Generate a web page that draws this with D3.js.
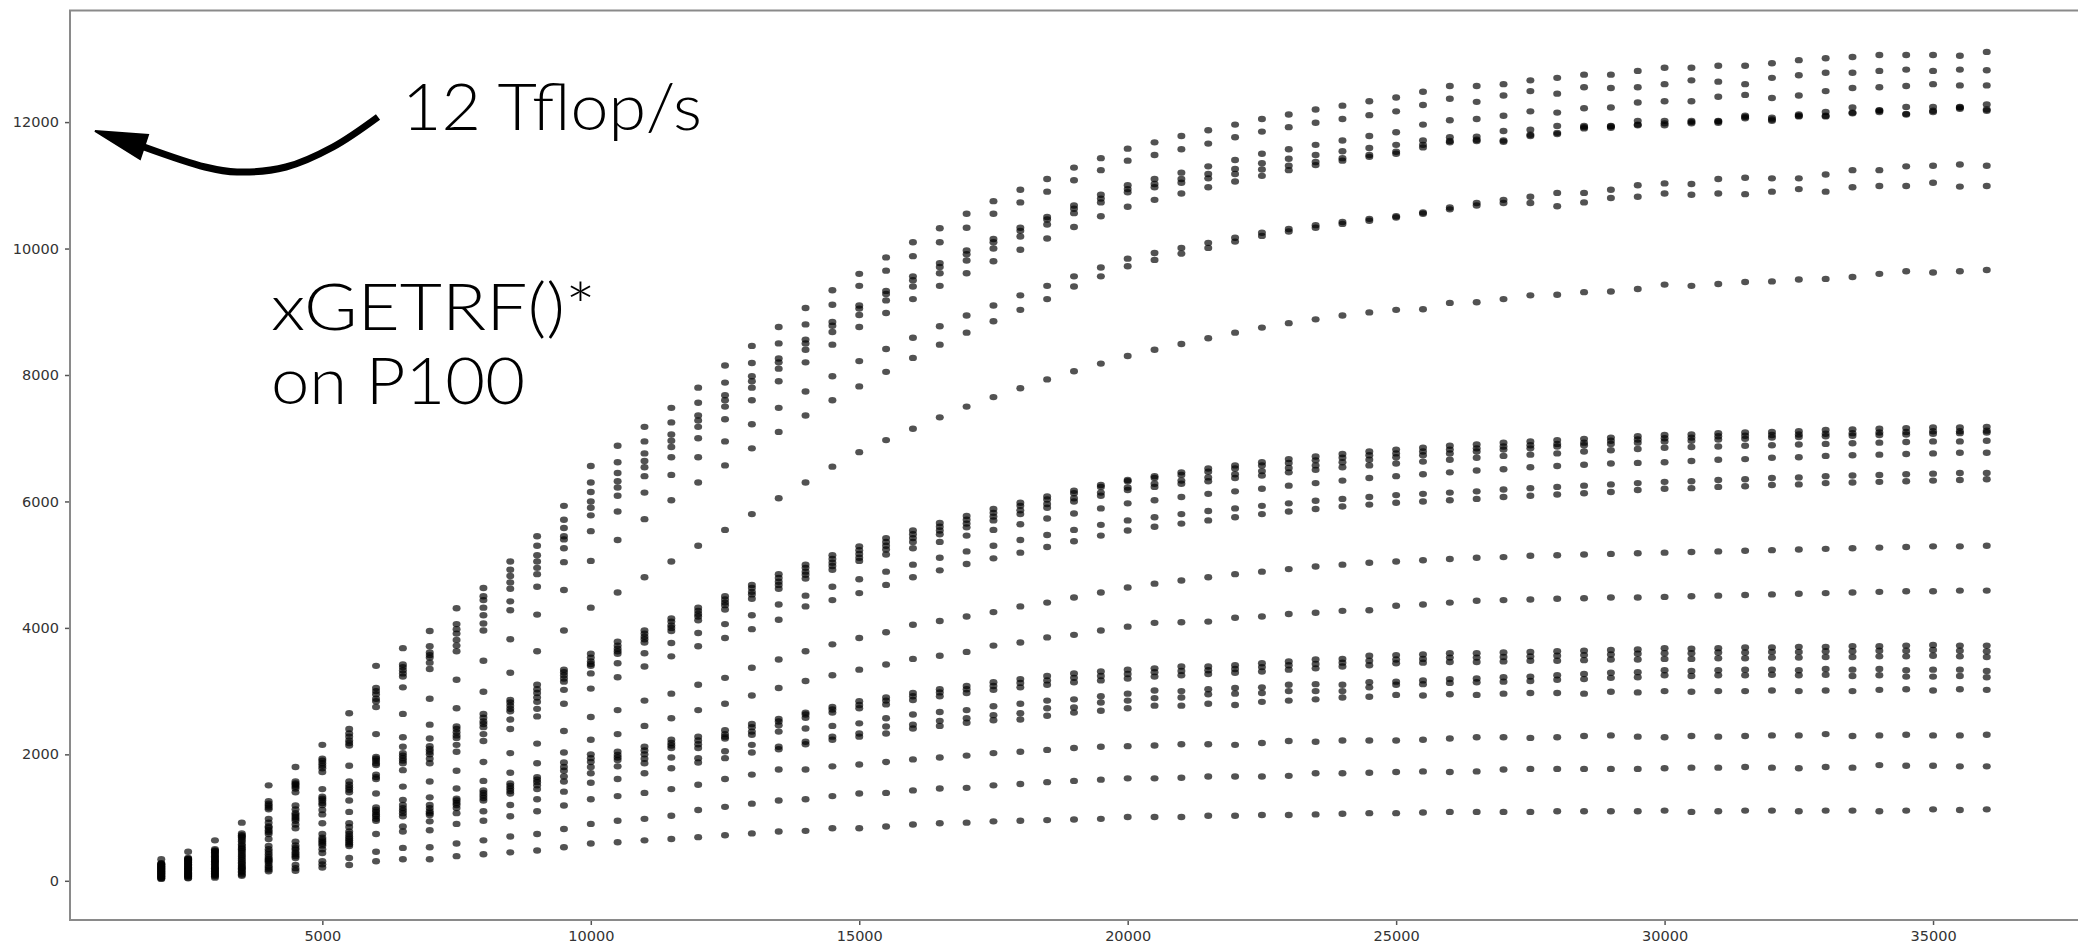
<!DOCTYPE html>
<html>
<head>
<meta charset="utf-8">
<script src="https://cdn.jsdelivr.net/npm/d3@7"></script>
<style>
  html, body { margin: 0; background: #fff; }
  svg { display: block; }
  .tick text { font-family: "DejaVu Sans", sans-serif; font-size: 14.5px; fill: #333; }
  .note { font-family: "Lato", "Open Sans", sans-serif; font-weight: 300; fill: #000; }
</style>
</head>
<body>
<svg id="chart"></svg>
<script>
// matrix sizes N (one column of dots per size)
const sizes = [2000,2500,3000,3500,4000,4500,5000,5500,6000,6500,7000,7500,8000,8500,9000,9500,
  10000,10500,11000,11500,12000,12500,13000,13500,14000,14500,15000,15500,16000,16500,17000,17500,
  18000,18500,19000,19500,20000,20500,21000,21500,22000,22500,23000,23500,24000,24500,25000,
  25500,26000,26500,27000,27500,28000,28500,29000,29500,30000,30500,31000,31500,32000,32500,
  33000,33500,34000,34500,35000,35500,36000];

// Gflop/s, upper band (tops out near 13 Tflop/s)
const highGroup = [
  [340,460,640,920,1510,1800,2150,2650,3400,3680,3950,4310,4630,5050,5450,5930,
   6560,6880,7180,7480,7800,8150,8460,8760,9060,9340,9600,9860,10100,10320,10550,10750,10930,11100,11280,11430,11580,11680,11780,11870,11960,12050,12120,12200,12260,12330,12390,
   12480,12570,12570,12600,12660,12700,12750,12750,12810,12860,12860,12890,12890,12930,12980,13010,13030,13060,13060,13060,13050,13110],
  [280,360,500,750,1260,1570,1930,2400,3050,3420,3710,4060,4500,4920,5300,5710,
   6300,6620,6950,7250,7560,7880,8190,8500,8800,9110,9410,9650,9880,10100,10330,10550,10730,10900,11080,11240,11390,11480,11570,11660,11760,11850,11920,11990,12050,12110,12170,
   12270,12370,12320,12420,12490,12450,12550,12540,12550,12600,12660,12640,12600,12700,12740,12780,12780,12810,12830,12810,12830,12820],
  [270,350,480,720,1220,1540,1900,2330,3000,3380,3610,3980,4440,4820,5150,5580,
   6150,6450,6760,7060,7360,7680,7980,8260,8560,8840,9100,9330,9560,9770,9970,10150,10330,10500,10680,10850,11000,11100,11200,11300,11400,11500,11570,11640,11710,11780,11840,
   11960,12030,12050,12100,12170,12150,12220,12230,12310,12330,12330,12400,12430,12380,12420,12490,12540,12550,12570,12600,12580,12580],
  [260,340,470,700,1190,1520,1860,2280,2950,3330,3570,3910,4320,4720,5050,5450,
   6000,6320,6640,6960,7280,7600,7900,8200,8500,8780,9050,9280,9500,9710,9910,10100,10280,10460,10630,10790,10940,11020,11100,11180,11260,11350,11420,11480,11540,11590,11640,
   11710,11760,11770,11860,11880,11940,11940,11940,12020,12020,12020,12020,12100,12070,12120,12160,12230,12190,12240,12240,12240,12280],
  [250,330,450,680,1160,1490,1820,2220,2880,3280,3530,3810,4200,4620,4950,5400,
   5900,6220,6540,6860,7180,7500,7800,8100,8400,8680,8950,9180,9400,9610,9810,10000,10190,10380,10560,10730,10890,10970,11040,11110,11180,11250,11310,11370,11430,11480,11530,
   11640,11700,11720,11710,11800,11830,11920,11930,11960,11980,12000,12010,12080,12040,12100,12100,12150,12180,12130,12180,12230,12200],
  [240,320,430,650,1130,1460,1780,2180,2840,3230,3450,3720,4070,4420,4850,5260,
   5780,6090,6400,6700,7000,7300,7600,7900,8200,8480,8760,8980,9200,9410,9610,9800,9980,10160,10340,10510,10660,10770,10870,10970,11060,11150,11240,11320,11390,11450,11500,
   11600,11680,11700,11690,11780,11810,11900,11910,11950,11950,11980,11990,12060,12020,12090,12090,12140,12160,12120,12160,12210,12180],
  [230,300,410,620,980,1400,1720,2140,2750,3060,3350,3630,3960,4280,4650,5040,
   5530,5840,6140,6420,6700,6950,7220,7480,7740,7980,8220,8410,8590,8770,8940,9100,9260,9410,9560,9700,9840,9930,10010,10090,10170,10250,10310,10370,10420,10470,10510,
   10570,10650,10720,10770,10820,10880,10880,10930,11000,11030,11020,11100,11120,11110,11110,11170,11240,11240,11300,11310,11330,11310],
  [220,290,390,580,920,1190,1450,1820,2320,2640,2880,3180,3480,3820,4210,4600,
   5060,5390,5720,6020,6300,6570,6840,7100,7360,7600,7820,8050,8270,8480,8670,8850,9030,9200,9400,9560,9720,9820,9920,10010,10110,10200,10270,10330,10390,10440,10490,
   10550,10620,10680,10720,10720,10670,10730,10800,10820,10870,10850,10870,10860,10900,10940,10900,10970,10990,10990,11040,10980,10990],
  [210,280,370,550,860,1130,1330,1570,1960,2270,2470,2730,2990,3290,3630,3960,
   4320,4560,4800,5050,5300,5550,5800,6050,6300,6550,6780,6970,7150,7330,7500,7650,7790,7930,8060,8180,8300,8400,8490,8580,8670,8750,8820,8880,8940,8990,9030,
   9040,9140,9150,9200,9260,9270,9310,9320,9360,9430,9410,9440,9470,9480,9510,9520,9550,9600,9640,9620,9640,9660]
];

// Gflop/s, middle band (around 7 Tflop/s)
const midGroup = [
  [200,260,350,520,840,1070,1300,1520,1930,2120,2250,2440,2640,2860,3100,3340,
   3590,3780,3960,4150,4320,4500,4680,4850,5000,5150,5290,5420,5540,5660,5770,5880,5980,6080,6170,6260,6340,6400,6460,6520,6570,6620,6670,6710,6750,6790,6820,
   6850,6880,6900,6930,6950,6970,6990,7010,7030,7050,7060,7080,7090,7100,7110,7130,7140,7150,7160,7170,7170,7180],
  [190,250,330,500,800,1040,1270,1480,1900,2020,2130,2400,2580,2820,3030,3300,
   3530,3720,3910,4100,4270,4450,4630,4790,4950,5090,5230,5360,5480,5600,5710,5820,5930,6030,6130,6230,6320,6370,6420,6470,6520,6570,6610,6650,6690,6730,6760,
   6790,6820,6840,6870,6890,6910,6930,6960,6980,7000,7010,7030,7040,7050,7060,7070,7080,7090,7100,7110,7110,7120],
  [180,240,310,470,770,1010,1230,1440,1860,1980,2080,2350,2520,2770,2970,3250,
   3470,3670,3860,4040,4220,4400,4570,4730,4890,5030,5170,5300,5420,5540,5650,5760,5860,5960,6050,6140,6220,6280,6330,6380,6430,6480,6530,6570,6620,6660,6700,
   6730,6760,6790,6820,6840,6870,6890,6910,6930,6950,6960,6980,6990,7010,7020,7030,7040,7050,7060,7070,7080,7090],
  [170,220,300,440,740,980,1200,1400,1830,1940,2040,2300,2480,2720,2900,3200,
   3430,3630,3820,4000,4180,4360,4530,4680,4840,4980,5110,5240,5360,5480,5590,5700,5800,5900,6000,6090,6180,6230,6280,6320,6370,6410,6460,6500,6540,6570,6600,
   6630,6660,6690,6720,6740,6760,6790,6810,6830,6850,6860,6870,6880,6890,6900,6910,6920,6930,6940,6950,6950,6960],
  [160,210,280,410,660,950,1120,1270,1680,1900,2000,2260,2430,2680,2830,3150,
   3400,3590,3770,3950,4120,4290,4460,4620,4780,4920,5060,5160,5260,5360,5460,5550,5640,5730,5810,5890,5970,6020,6070,6120,6160,6200,6250,6290,6330,6370,6400,
   6430,6460,6490,6510,6540,6560,6580,6600,6610,6620,6640,6660,6670,6690,6700,6720,6730,6740,6750,6760,6770,6770],
  [150,200,260,380,550,890,1050,1090,1640,1860,1930,2150,2320,2550,2720,3020,
   3280,3440,3600,3760,3920,4060,4200,4370,4510,4650,4770,4890,5000,5110,5210,5300,5390,5470,5550,5630,5700,5750,5800,5850,5890,5930,5970,6010,6040,6070,6100,
   6120,6140,6160,6190,6210,6230,6250,6270,6290,6310,6320,6340,6350,6370,6380,6400,6410,6420,6430,6440,6450,6450],
  [140,180,240,350,500,830,910,910,1610,1750,1860,2040,2210,2400,2600,2800,
   3040,3220,3390,3550,3710,3840,3980,4130,4340,4440,4550,4680,4800,4910,5010,5100,5190,5280,5370,5460,5540,5600,5650,5700,5750,5800,5840,5880,5920,5950,5980,
   6000,6020,6040,6070,6090,6110,6130,6150,6180,6200,6210,6230,6240,6260,6270,6290,6300,6310,6320,6330,6340,6350],
  [130,170,220,320,460,620,740,850,1380,1490,1570,1740,1880,2020,2170,2370,
   2590,2700,2850,2960,3100,3210,3370,3500,3630,3740,3840,3930,4050,4110,4180,4250,4340,4400,4480,4560,4640,4700,4750,4800,4850,4890,4930,4970,5000,5030,5050,
   5070,5090,5110,5120,5140,5150,5160,5170,5180,5190,5200,5210,5220,5230,5240,5250,5260,5270,5280,5290,5290,5300],
  [120,160,200,290,420,560,680,780,1160,1280,1320,1460,1580,1710,1860,2030,
   2230,2320,2450,2570,2700,2800,2930,3050,3160,3250,3340,3420,3510,3560,3620,3720,3770,3850,3890,3960,4020,4080,4090,4100,4160,4180,4220,4240,4270,4280,4350,
   4370,4400,4430,4440,4450,4460,4470,4480,4480,4490,4500,4510,4520,4530,4540,4550,4560,4570,4580,4580,4590,4590]
];

// Gflop/s, lower band (around 3.6 Tflop/s and below)
const lowGroup = [
  [110,140,190,270,380,520,650,740,1120,1200,1200,1300,1430,1540,1640,1870,
   2000,2040,2120,2230,2280,2380,2480,2560,2660,2750,2840,2900,2970,3030,3080,3140,3190,3240,3280,3310,3340,3360,3390,3390,3410,3440,3470,3500,3510,3560,3570,
   3580,3600,3600,3610,3620,3630,3640,3650,3660,3680,3670,3680,3690,3690,3700,3700,3710,3710,3720,3730,3720,3720],
  [100,130,170,240,350,490,620,700,1090,1150,1150,1270,1390,1500,1600,1800,
   1940,1990,2060,2180,2220,2320,2430,2520,2630,2710,2780,2850,2920,2980,3030,3080,3130,3170,3210,3240,3270,3300,3320,3330,3350,3380,3410,3430,3450,3480,3500,
   3510,3530,3530,3540,3550,3560,3570,3580,3590,3600,3600,3610,3610,3620,3620,3630,3630,3640,3640,3650,3640,3630],
  [90,120,150,220,330,450,590,670,1050,1110,1100,1230,1350,1460,1560,1740,
   1880,1950,2000,2140,2160,2250,2360,2460,2580,2660,2730,2790,2860,2920,2970,3020,3060,3100,3140,3170,3200,3230,3250,3270,3290,3310,3340,3360,3390,3410,3440,
   3450,3460,3460,3470,3480,3480,3490,3500,3500,3510,3510,3520,3520,3530,3530,3540,3540,3550,3550,3560,3550,3540],
  [80,100,140,200,310,420,560,640,1020,1070,1070,1200,1310,1420,1510,1650,
   1800,1910,1930,2100,2100,2280,2310,2360,2410,2450,2490,2570,2630,2670,2700,2760,2800,2850,2870,2920,2960,3010,3000,3030,3050,3060,3100,3110,3100,3140,3150,
   3170,3190,3200,3220,3230,3250,3270,3290,3300,3330,3320,3330,3340,3340,3330,3350,3340,3350,3330,3340,3340,3320],
  [70,90,120,180,280,390,500,610,980,1020,1040,1150,1270,1380,1450,1570,
   1700,1810,1860,1950,1940,2050,2150,2120,2200,2280,2330,2440,2470,2530,2570,2620,2650,2730,2740,2820,2850,2890,2900,2950,2960,2970,3000,3000,3000,3060,3100,
   3110,3130,3140,3150,3160,3180,3190,3210,3220,3250,3240,3250,3250,3260,3250,3260,3240,3250,3230,3230,3240,3220],
  [60,80,100,150,240,360,440,580,950,860,940,1070,1100,1200,1290,1410,
   1550,1610,1700,1780,1870,1940,2030,2080,2160,2230,2280,2330,2410,2450,2500,2540,2550,2610,2660,2690,2730,2770,2770,2800,2780,2830,2850,2870,2900,2910,2940,
   2930,2950,2940,2960,2970,2970,2960,2990,2980,3000,2990,3000,3000,3010,3000,3010,3000,3020,3030,3010,3030,3020],
  [50,70,90,130,210,250,310,550,740,780,800,900,950,1020,1100,1190,
   1290,1340,1390,1450,1520,1610,1680,1760,1760,1810,1840,1880,1920,1950,1980,2020,2040,2070,2100,2120,2130,2140,2160,2160,2150,2180,2210,2200,2220,2220,2220,
   2230,2250,2270,2270,2260,2270,2290,2300,2280,2270,2290,2280,2290,2300,2300,2320,2290,2300,2310,2300,2300,2310],
  [40,50,70,100,180,200,260,360,460,520,530,590,640,700,740,820,
   900,950,980,1030,1120,1170,1220,1270,1290,1340,1380,1390,1430,1460,1470,1510,1530,1560,1580,1600,1620,1620,1630,1650,1650,1650,1660,1700,1700,1710,1720,
   1730,1720,1730,1760,1770,1770,1770,1770,1770,1780,1790,1790,1800,1790,1780,1800,1790,1830,1820,1820,1810,1810],
  [30,40,50,80,150,160,210,250,310,340,340,390,420,450,480,530,
   590,610,640,660,690,720,750,780,790,830,830,860,890,910,920,940,950,960,970,980,1010,1010,1010,1030,1030,1040,1040,1050,1060,1070,1070,
   1080,1090,1090,1090,1090,1100,1100,1100,1100,1110,1090,1100,1110,1110,1100,1110,1110,1100,1110,1130,1120,1130]
];

const xTicks = [5000, 10000, 15000, 20000, 25000, 30000, 35000];
const yTicks = [0, 2000, 4000, 6000, 8000, 10000, 12000];

// chart size and the axes box (right spine falls at the image edge)
const svgWidth = 2078;
const svgHeight = 947;
const boxLeft = 70;
const boxTop = 10.5;
const boxBottom = 920;
const boxRight = 2079;

const svg = d3.select("#chart")
  .attr("width", svgWidth)
  .attr("height", svgHeight);

svg.append("rect")
  .attr("width", "100%")
  .attr("height", "100%")
  .attr("fill", "white");

const x = d3.scaleLinear()
  .domain([300, 37700])
  .range([boxLeft, 2078]);

const y = d3.scaleLinear()
  .domain([-620, 13765])
  .range([boxBottom, boxTop]);

// the dots
const points = [];
[highGroup, midGroup, lowGroup].forEach(group => {
  group.forEach(series => {
    series.forEach((v, i) => points.push({n: sizes[i], gflops: v}));
  });
});

svg.append("g")
  .selectAll("ellipse")
  .data(points)
  .join("ellipse")
    .attr("cx", d => x(d.n))
    .attr("cy", d => y(d.gflops))
    .attr("rx", 4)
    .attr("ry", 3.2)
    .attr("fill", "#000")
    .attr("fill-opacity", 0.68);

// axes, no domain line (the frame is drawn below)
svg.append("g")
  .attr("transform", "translate(0," + boxBottom + ")")
  .call(d3.axisBottom(x).tickValues(xTicks).tickSize(5).tickPadding(6).tickFormat(d3.format("d")))
  .call(g => g.select(".domain").remove())
  .call(g => g.selectAll(".tick line").attr("stroke", "#555").attr("stroke-width", 1.5));

svg.append("g")
  .attr("transform", "translate(" + boxLeft + ",0)")
  .call(d3.axisLeft(y).tickValues(yTicks).tickSize(5).tickPadding(6).tickFormat(d3.format("d")))
  .call(g => g.select(".domain").remove())
  .call(g => g.selectAll(".tick line").attr("stroke", "#555").attr("stroke-width", 1.5));

svg.append("rect")
  .attr("x", boxLeft)
  .attr("y", boxTop)
  .attr("width", boxRight - boxLeft)
  .attr("height", boxBottom - boxTop)
  .attr("fill", "none")
  .attr("stroke", "#8a8a8a")
  .attr("stroke-width", 2);

// annotations, widths
svg.append("text")
  .attr("class", "note")
  .attr("x", 402)
  .attr("y", 130)
  .attr("textLength", 300)
  .attr("lengthAdjust", "spacingAndGlyphs")
  .style("font-size", "66px")
  .text("12 Tflop/s");

svg.append("text")
  .attr("class", "note")
  .attr("x", 271)
  .attr("y", 330)
  .attr("textLength", 325)
  .attr("lengthAdjust", "spacingAndGlyphs")
  .style("font-size", "66px")
  .text("xGETRF()*");

svg.append("text")
  .attr("class", "note")
  .attr("x", 271)
  .attr("y", 404)
  .attr("textLength", 254)
  .attr("lengthAdjust", "spacingAndGlyphs")
  .style("font-size", "66px")
  .text("on P100");

// curved arrow pointing at the 12000 level
const arrowPath = [[378, 117], [333, 147], [286, 167], [237, 172], [205, 167], [144, 147]];
svg.append("path")
  .attr("d", d3.line().curve(d3.curveCatmullRom)(arrowPath))
  .attr("fill", "none")
  .attr("stroke", "#000")
  .attr("stroke-width", 7);

svg.append("path")
  .attr("d", "M95,131 L148,135 L140,159 Z")
  .attr("fill", "#000")
  .attr("stroke", "#000")
  .attr("stroke-width", 2)
  .attr("stroke-linejoin", "miter");
</script>
</body>
</html>
